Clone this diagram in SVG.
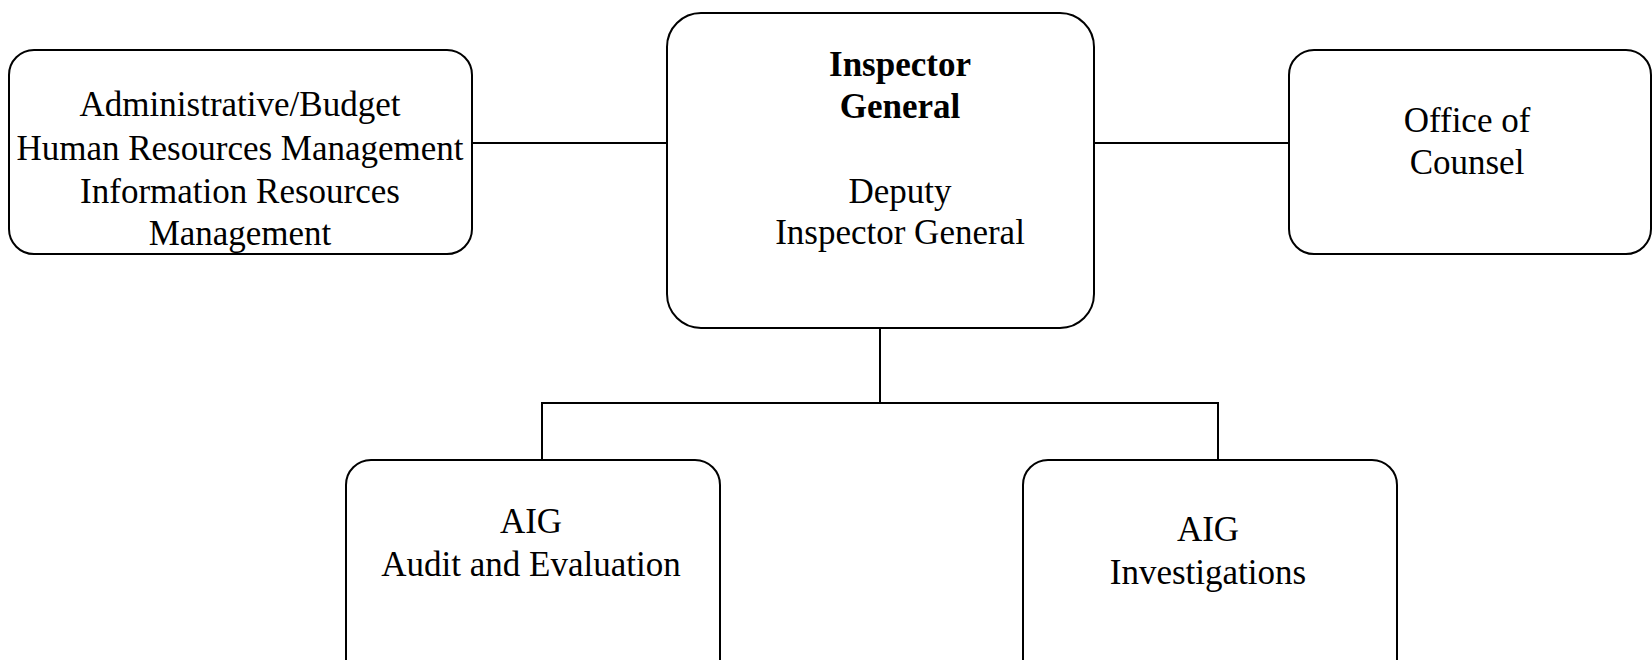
<svg xmlns="http://www.w3.org/2000/svg" width="1652" height="660" viewBox="0 0 1652 660">
<style>
.box{fill:#fff;stroke:#000;stroke-width:2}
.conn{fill:none;stroke:#000;stroke-width:2}
text{font-family:"Liberation Serif","Times New Roman",serif;font-size:35px;fill:#000;text-anchor:middle}
.b{font-weight:bold}
</style>
<rect width="1652" height="660" fill="#fff"/>
<g id="connectors">
<line class="conn" x1="472" y1="143" x2="667" y2="143"/>
<line class="conn" x1="1094" y1="143" x2="1289" y2="143"/>
<polyline class="conn" points="880,329 880,403"/>
<polyline class="conn" points="542,460 542,403 1218,403 1218,460"/>
</g>
<g id="admin">
<rect class="box" x="9" y="50" width="463" height="204" rx="25" ry="25"/>
<text x="240" y="116">Administrative/Budget</text>
<text x="240" y="160">Human Resources Management</text>
<text x="240" y="203">Information Resources</text>
<text x="240" y="245">Management</text>
</g>
<g id="ig">
<rect class="box" x="667" y="13" width="427" height="315" rx="34" ry="34"/>
<text class="b" x="900" y="76">Inspector</text>
<text class="b" x="900" y="118">General</text>
<text x="900" y="203">Deputy</text>
<text x="900" y="244">Inspector General</text>
</g>
<g id="counsel">
<rect class="box" x="1289" y="50" width="362" height="204" rx="25" ry="25"/>
<text x="1467" y="132">Office of</text>
<text x="1467" y="174">Counsel</text>
</g>
<g id="audit">
<rect class="box" x="346" y="460" width="374" height="230" rx="25" ry="25"/>
<text x="531" y="533">AIG</text>
<text x="531" y="576">Audit and Evaluation</text>
</g>
<g id="investigations">
<rect class="box" x="1023" y="460" width="374" height="230" rx="25" ry="25"/>
<text x="1208" y="541">AIG</text>
<text x="1208" y="584">Investigations</text>
</g>
</svg>
